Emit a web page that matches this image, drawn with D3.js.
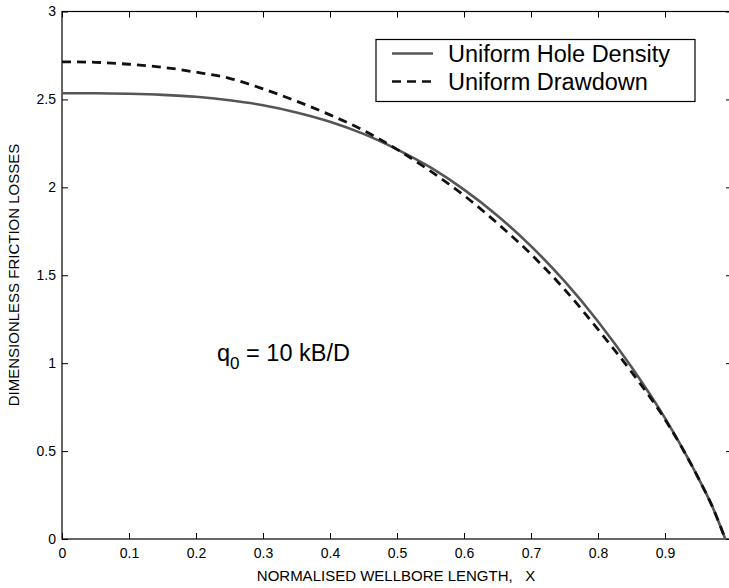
<!DOCTYPE html>
<html>
<head>
<meta charset="utf-8">
<script src="https://cdn.jsdelivr.net/npm/d3@7"></script>
<style>
  html, body { margin: 0; padding: 0; background: #fff; }
  svg { display: block; font-family: "Liberation Sans", Arial, Helvetica, sans-serif; }
</style>
</head>
<body>
<svg id="chart" width="729" height="588"></svg>
<script>
// ---- Data ----
const xValues = [0, 0.05, 0.1, 0.15, 0.2, 0.25, 0.3, 0.35, 0.4, 0.45, 0.5, 0.55, 0.6, 0.65, 0.7, 0.75, 0.8, 0.85, 0.9, 0.95, 0.97, 0.99];
const uniformHoleDensity = [2.535, 2.535, 2.532, 2.526, 2.515, 2.495, 2.467, 2.426, 2.373, 2.304, 2.216, 2.113, 1.987, 1.839, 1.666, 1.466, 1.237, 0.978, 0.687, 0.345, 0.19, 0.0];
const uniformDrawdown    = [2.714, 2.711, 2.700, 2.683, 2.655, 2.620, 2.560, 2.490, 2.412, 2.324, 2.216, 2.092, 1.954, 1.795, 1.620, 1.420, 1.192, 0.950, 0.680, 0.345, 0.19, 0.0];
const seriesNames = ["Uniform Hole Density", "Uniform Drawdown"];
const xTicks = [0, 0.1, 0.2, 0.3, 0.4, 0.5, 0.6, 0.7, 0.8, 0.9];
const yTicks = [0, 0.5, 1, 1.5, 2, 2.5, 3];
const xLabel = "NORMALISED WELLBORE LENGTH,   X";
const yLabel = "DIMENSIONLESS FRICTION LOSSES";

(function () {
const svg = d3.select("#chart");
const mLeft = 62, mRight = 732, mTop = 11.5, mBottom = 539;
const x = d3.scaleLinear().domain([0, 1]).range([mLeft, mRight]);
const y = d3.scaleLinear().domain([0, 3]).range([mBottom, mTop]);

// Frame
svg.append("rect").attr("x", mLeft).attr("y", mTop)
  .attr("width", mRight - mLeft).attr("height", mBottom - mTop)
  .attr("fill", "none").attr("stroke", "#000").attr("stroke-width", 1.2);

const tickLen = 6;
const fmt = d => d === 0 ? "0" : String(d);

const gx = svg.append("g").attr("transform", `translate(0,${mBottom})`)
  .call(d3.axisBottom(x).tickValues(xTicks).tickFormat(fmt).tickSize(-tickLen).tickPadding(9));
const gxt = svg.append("g").attr("transform", `translate(0,${mTop})`)
  .call(d3.axisTop(x).tickValues(xTicks).tickFormat("").tickSize(-tickLen));
const gy = svg.append("g").attr("transform", `translate(${mLeft},0)`)
  .call(d3.axisLeft(y).tickValues(yTicks).tickFormat(fmt).tickSize(-tickLen).tickPadding(6));
const gyr = svg.append("g").attr("transform", `translate(${mRight},0)`)
  .call(d3.axisRight(y).tickValues(yTicks).tickFormat("").tickSize(-tickLen));

[gx, gxt, gy, gyr].forEach(g => {
  g.select(".domain").remove();
  g.selectAll(".tick line").attr("stroke", "#000").attr("stroke-width", 1);
  g.selectAll(".tick text").attr("font-size", 14).attr("fill", "#000")
    .attr("font-family", "'Liberation Sans', Arial, sans-serif");
});

// Axis titles
svg.append("text").attr("x", 396).attr("y", 581)
  .attr("text-anchor", "middle").attr("font-size", 15).attr("fill", "#000")
  .style("white-space", "pre").text(xLabel);
svg.append("text").attr("transform", `translate(19,275) rotate(-90)`)
  .attr("text-anchor", "middle").attr("font-size", 15).attr("fill", "#000")
  .text(yLabel);

// Curves
const line = d3.line().x(d => x(d[0])).y(d => y(d[1])).curve(d3.curveMonotoneX);
const solidData = xValues.map((v, i) => [v, uniformHoleDensity[i]]);
const dashData = xValues.map((v, i) => [v, uniformDrawdown[i]]);

svg.append("path").datum(solidData).attr("d", line)
  .attr("fill", "none").attr("stroke", "#555").attr("stroke-width", 2.6);
svg.append("path").datum(dashData).attr("d", line)
  .attr("fill", "none").attr("stroke", "#111").attr("stroke-width", 2.8)
  .attr("stroke-dasharray", "9,6");

// Legend
const lg = svg.append("g");
lg.append("rect").attr("x", 376).attr("y", 39.5).attr("width", 319).attr("height", 62)
  .attr("fill", "#fff").attr("stroke", "#000").attr("stroke-width", 1.2);
const legendItems = [
  { name: seriesNames[0], color: "#555", dash: null, yy: 53.5 },
  { name: seriesNames[1], color: "#111", dash: "9,6", yy: 81.5 }
];
legendItems.forEach(it => {
  const l = lg.append("line").attr("x1", 392).attr("x2", 433).attr("y1", it.yy).attr("y2", it.yy)
    .attr("stroke", it.color).attr("stroke-width", 2.6);
  if (it.dash) l.attr("stroke-dasharray", it.dash);
  lg.append("text").attr("x", 448).attr("y", it.yy).attr("dy", "0.36em")
    .attr("font-size", 23.5).attr("fill", "#000").text(it.name);
});

// Annotation
const ann = svg.append("text").attr("x", 217).attr("y", 361).attr("font-size", 23.5).attr("fill", "#000");
ann.append("tspan").text("q");
ann.append("tspan").attr("font-size", 17).attr("dy", 8).text("0");
ann.append("tspan").attr("dy", -8).text(" = 10 kB/D");
})();
</script>
</body>
</html>
